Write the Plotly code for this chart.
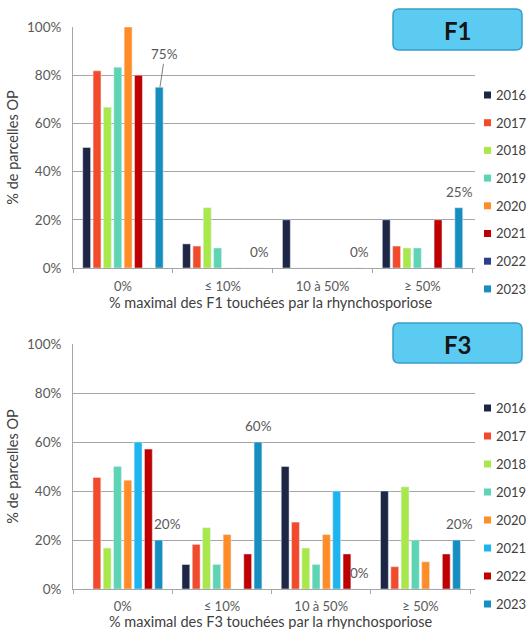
import plotly.graph_objects as go

categories = ["0%", "≤ 10%", "10 à 50%", "≥ 50%"]
years = ["2016", "2017", "2018", "2019", "2020", "2021", "2022", "2023"]

# F1 (% of plots per class)
f1_2016 = [50, 10, 20, 20]
f1_2017 = [81.8, 9.1, 0, 9.1]
f1_2018 = [66.7, 25, 0, 8.3]
f1_2019 = [83.3, 8.3, 0, 8.3]
f1_2020 = [100, 0, 0, 0]
f1_2021 = [80, 0, 0, 20]
f1_2022 = [0, 0, 0, 0]
f1_2023 = [75, 0, 0, 25]

# F3
f3_2016 = [0, 10, 50, 40]
f3_2017 = [45.5, 18.2, 27.3, 9.1]
f3_2018 = [16.7, 25, 16.7, 41.7]
f3_2019 = [50, 10, 10, 20]
f3_2020 = [44.4, 22.2, 22.2, 11.1]
f3_2021 = [60, 0, 40, 0]
f3_2022 = [57.1, 14.3, 14.3, 14.3]
f3_2023 = [20, 60, 0, 20]

f1_series = [f1_2016, f1_2017, f1_2018, f1_2019, f1_2020, f1_2021, f1_2022, f1_2023]
f3_series = [f3_2016, f3_2017, f3_2018, f3_2019, f3_2020, f3_2021, f3_2022, f3_2023]

f1_colors = ["#1e2645", "#f24a2b", "#a8e84a", "#5dd4b4", "#ff8c26", "#c00000", "#2f3d8f", "#168fc0"]
f3_colors = ["#1e2645", "#f24a2b", "#a8e84a", "#5dd4b4", "#ff8c26", "#1cb5ef", "#c00000", "#168fc0"]

FONT = "Lato, 'DejaVu Sans', sans-serif"
W, H = 529, 629
ML, MR, MT, MB = 73, 54, 27, 40
PW = W - ML - MR
PH = H - MT - MB


def X(px):
    return (px - ML) / PW


def Y(py):
    return (H - MB - py) / PH


fig = go.Figure()
for i, y in enumerate(years):
    fig.add_trace(go.Bar(x=categories, y=f1_series[i], name=y, marker_color=f1_colors[i],
                         xaxis="x", yaxis="y", showlegend=False))
for i, y in enumerate(years):
    fig.add_trace(go.Bar(x=categories, y=f3_series[i], name=y, marker_color=f3_colors[i],
                         xaxis="x2", yaxis="y2", showlegend=False))

grid = "#a6a6a6"
ytickfont = dict(family=FONT, size=13.5, color="#595959")
xtickfont = dict(family=FONT, size=13, color="#595959")
labelfont = dict(family=FONT, size=13.5, color="#595959")
titlefont = dict(family=FONT, size=14.5, color="#404040")


def yax(domain):
    return dict(domain=domain, range=[0, 100], dtick=20, ticksuffix="%", showgrid=True,
                gridcolor=grid, gridwidth=1, showline=True, linecolor=grid, zeroline=False,
                tickfont=ytickfont, ticklabelstandoff=8, fixedrange=True,
                title=dict(text="% de parcelles OP", font=titlefont, standoff=4))


def xax(anchor, standoff):
    return dict(anchor=anchor, domain=[0, 1], showline=True, linecolor=grid, ticks="outside",
                tickson="boundaries", ticklen=4, tickcolor=grid, tickfont=xtickfont,
                ticklabelstandoff=standoff, fixedrange=True)


annotations = []
shapes = []

# axis titles below the category labels
for text, py in [("% maximal des F1 touchées par la rhynchosporiose", 302.5),
                 ("% maximal des F3 touchées par la rhynchosporiose", 621)]:
    annotations.append(dict(x=X(271), y=Y(py), xref="paper", yref="paper", text=text,
                            xanchor="center", yanchor="middle", showarrow=False,
                            font=titlefont))

slot_shift = 37
for j, v in enumerate(f1_2023):
    if j == 0:
        annotations.append(dict(x=categories[j], y=v, xref="x", yref="y", xshift=slot_shift,
                                text=f"{v:g}%", showarrow=True, arrowhead=0, arrowwidth=1,
                                arrowcolor="#7f7f7f", ax=5, ay=-33, standoff=0,
                                font=labelfont))
    else:
        annotations.append(dict(x=categories[j], y=v, xref="x", yref="y", xshift=slot_shift,
                                yshift=16, text=f"{v:g}%", showarrow=False, font=labelfont))
f3_label_nudge = [8, 0, 1, 2]
for j, v in enumerate(f3_2023):
    annotations.append(dict(x=categories[j], y=v, xref="x2", yref="y2",
                            xshift=slot_shift + f3_label_nudge[j],
                            yshift=16, text=f"{v:g}%", showarrow=False, font=labelfont))


def rounded_box(px0, py0, px1, py1, r=6):
    x0, x1 = X(px0), X(px1)
    y0, y1 = Y(py1), Y(py0)
    rx, ry = r / PW, r / PH
    path = (f"M {x0+rx},{y0} L {x1-rx},{y0} Q {x1},{y0} {x1},{y0+ry} L {x1},{y1-ry} "
            f"Q {x1},{y1} {x1-rx},{y1} L {x0+rx},{y1} Q {x0},{y1} {x0},{y1-ry} "
            f"L {x0},{y0+ry} Q {x0},{y0} {x0+rx},{y0} Z")
    return dict(type="path", path=path, xref="paper", yref="paper",
                fillcolor="#5ccbf2", line=dict(color="#3a9cc6", width=1.5), layer="above")


for label, (py0, py1) in [("F1", (9, 50)), ("F3", (323, 363))]:
    shapes.append(rounded_box(393, py0, 522, py1))
    annotations.append(dict(x=X(458), y=Y((py0 + py1) / 2 + 1), xref="paper", yref="paper",
                            text=f"<b>{label}</b>", showarrow=False,
                            xanchor="center", yanchor="middle",
                            font=dict(family=FONT, size=24, color="#151515")))

# legends
for colors, y_first, step in [(f1_colors, 95, 27.7), (f3_colors, 408, 28)]:
    for i, yr in enumerate(years):
        cy = y_first + step * i
        shapes.append(dict(type="rect", xref="paper", yref="paper",
                           x0=X(484), x1=X(491), y0=Y(cy + 3.5), y1=Y(cy - 3.5),
                           fillcolor=colors[i], line=dict(width=0)))
        annotations.append(dict(x=X(494), y=Y(cy), xref="paper", yref="paper", text=yr,
                                xanchor="left", yanchor="middle", showarrow=False,
                                font=dict(family=FONT, size=13, color="#404040")))

fig.update_layout(
    width=W, height=H,
    margin=dict(l=ML, r=MR, t=MT, b=MB, autoexpand=False),
    paper_bgcolor="white", plot_bgcolor="white",
    barmode="group", bargap=0.17, bargroupgap=0.24,
    xaxis=xax("y", 6),
    yaxis=yax([Y(268), 1]),
    xaxis2=xax("y2", 5),
    yaxis2=yax([0, Y(344)]),
    annotations=annotations, shapes=shapes,
    showlegend=False,
    font=dict(family=FONT),
)

fig.write_html("out.html", config={"displayModeBar": False},
               post_script="document.body.style.margin='0';document.body.style.overflow='hidden';")
